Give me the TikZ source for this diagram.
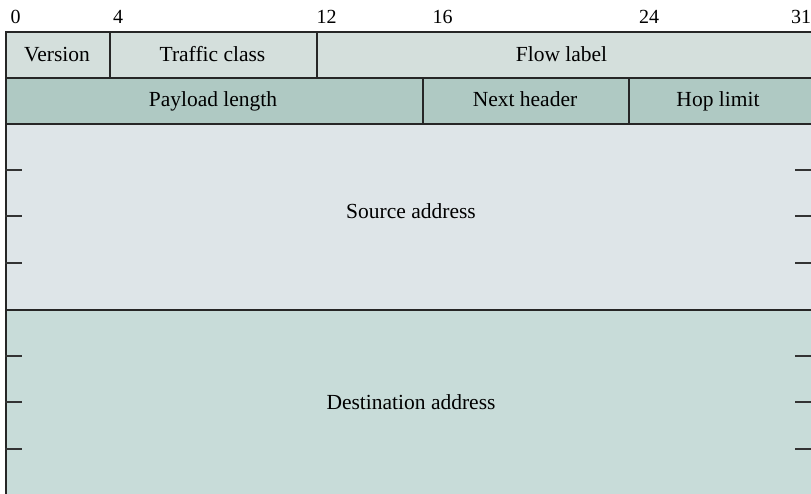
\documentclass[tikz,border=0pt]{standalone}
\usepackage{fontspec}
\setmainfont{Liberation Serif}
\usepackage{xcolor}
\usetikzlibrary{positioning}

\begin{document}
\begin{tikzpicture}[
  x=1pt, y=-1pt,
  font=\fontsize{21.5}{26}\selectfont,
  field/.style={draw=black!85, line width=1.6pt, fill=#1, anchor=north west, inner sep=0pt},
  lbl/.style={anchor=base, inner sep=0pt},
  bitnum/.style={anchor=base, inner sep=0pt, font=\fontsize{20}{24}\selectfont},
  tick/.style={draw=black!80, line width=1.6pt},
]
\definecolor{cRowA}{HTML}{D4DFDC}
\definecolor{cRowB}{HTML}{AFC9C3}
\definecolor{cSrc}{HTML}{DEE5E8}
\definecolor{cDst}{HTML}{C8DCD9}

\clip (0,0) rectangle (811,493);
\fill[white] (0,0) rectangle (811,493);

% bit numbers
\node[bitnum] (b0) at (15.5,23) {0};
\node[bitnum] (b4) at (118,23) {4};
\node[bitnum] (b12) at (326.5,23) {12};
\node[bitnum] (b16) at (442.5,23) {16};
\node[bitnum] (b24) at (649,23) {24};
\node[bitnum] (b31) at (801,23) {31};

% first word
\node[field=cRowA, minimum width=104pt, minimum height=46pt] (ver) at (5,31) {};
\node[field=cRowA, minimum width=207pt, minimum height=46pt] (tc) at (109,31) {};
\node[field=cRowA, minimum width=521pt, minimum height=46pt] (fl) at (316,31) {};
\node[lbl] (vert) at (57,61.5) {Version};
\node[lbl] (tct) at (212.5,61.5) {Traffic class};
\node[lbl] (flt) at (561.5,61.5) {Flow label};

% second word
\node[field=cRowB, minimum width=417pt, minimum height=46pt] (pl) at (5,77) {};
\node[field=cRowB, minimum width=206pt, minimum height=46pt] (nh) at (422,77) {};
\node[field=cRowB, minimum width=209pt, minimum height=46pt] (hl) at (628,77) {};
\node[lbl] (plt) at (213,106.7) {Payload length};
\node[lbl] (nht) at (525,106.7) {Next header};
\node[lbl] (hlt) at (718,106.7) {Hop limit};

% addresses
\node[field=cSrc, minimum width=832pt, minimum height=186pt] (src) at (5,123) {};
\node[field=cDst, minimum width=832pt, minimum height=190pt] (dst) at (5,309) {};
\node[lbl] (srct) at (411,218.5) {Source address};
\node[lbl] (dstt) at (411,409) {Destination address};

% word marks
\foreach \y in {170,216,263,356,402,449} {
  \draw[tick] (5,\y) -- (22,\y);
  \draw[tick] (795,\y) -- (811,\y);
}
\end{tikzpicture}
\end{document}
